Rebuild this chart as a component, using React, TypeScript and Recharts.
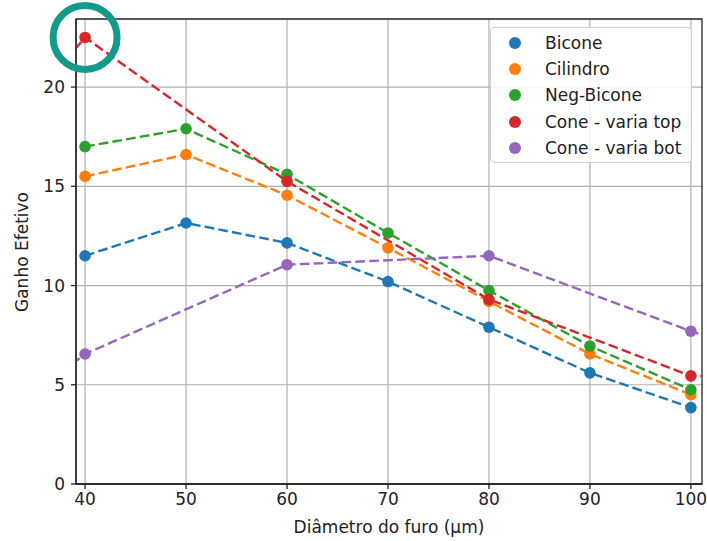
import React from 'react';
import { LineChart, Line, XAxis, YAxis, CartesianGrid, ReferenceArea, ReferenceDot, Label } from 'recharts';

// 30 and 110 lie outside the visible x-range; only the clipped line stubs show.
const diameters = [30, 40, 50, 60, 70, 80, 90, 100, 110];
const bicone = [null, 11.5, 13.15, 12.15, 10.2, 7.9, 5.6, 3.85, null];
const cilindro = [null, 15.5, 16.6, 14.55, 11.9, 9.2, 6.55, 4.5, null];
const negBicone = [null, 17.0, 17.9, 15.6, 12.65, 9.75, 6.95, 4.75, null];
const coneTop = [16.6, 22.5, null, 15.25, null, 9.3, null, 5.45, 5.3];
const coneBot = [2.6, 6.55, null, 11.05, null, 11.5, null, 7.7, 6.0];

const seriesNames = ['Bicone', 'Cilindro', 'Neg-Bicone', 'Cone - varia top', 'Cone - varia bot'];
const seriesColors = ['#1f77b4', '#ff7f0e', '#2ca02c', '#d62728', '#9467bd'];
const seriesValues = [bicone, cilindro, negBicone, coneTop, coneBot];

const xTicks = [40, 50, 60, 70, 80, 90, 100];
const yTicks = [0, 5, 10, 15, 20];
const xDomain = [39.1, 101.1];
const yDomain = [0, 23.43];
const highlight = { x: 40, y: 22.5 };

const data = diameters.map((d, i) => {
  const row: Record<string, number | null> = { x: d };
  seriesValues.forEach((vals, k) => {
    row['s' + k] = vals[i];
  });
  return row;
});

const FONT = 'DejaVu Sans, sans-serif';
const FS = 17;

export default function App() {
  return (
    <div style={{ position: 'absolute', left: 0, top: 0, width: 707, height: 541, background: '#fff', fontFamily: FONT }}>
      <LineChart width={707} height={541} data={data} margin={{ top: 19, right: 5, bottom: 0, left: 0 }}>
        <CartesianGrid stroke="#b0b0b0" strokeWidth={1.2} verticalValues={xTicks} horizontalValues={yTicks} />
        <XAxis
          type="number"
          dataKey="x"
          domain={xDomain}
          ticks={xTicks}
          allowDataOverflow
          height={57}
          tickSize={5}
          tickMargin={4}
          stroke="#222"
          tick={{ fill: '#222', fontSize: FS, fontFamily: FONT }}
          axisLine={{ stroke: '#222', strokeWidth: 1.3 }}
          tickLine={{ stroke: '#222', strokeWidth: 1.3 }}
        >
          <Label value="Diâmetro do furo (µm)" position="insideBottom" offset={8} style={{ fill: '#222', fontSize: FS, fontFamily: FONT }} />
        </XAxis>
        <YAxis
          type="number"
          domain={yDomain}
          ticks={yTicks}
          allowDataOverflow
          width={76}
          tickSize={5}
          tickMargin={6}
          stroke="#222"
          tick={{ fill: '#222', fontSize: FS, fontFamily: FONT }}
          axisLine={{ stroke: '#222', strokeWidth: 1.3 }}
          tickLine={{ stroke: '#222', strokeWidth: 1.3 }}
        >
          <Label
            content={() => (
              <text x={22} y={252} transform="rotate(-90 22 252)" textAnchor="middle" dominantBaseline="central" fill="#222" fontSize={FS} fontFamily={FONT}>
                Ganho Efetivo
              </text>
            )}
          />
        </YAxis>
        <ReferenceArea x1={xDomain[0]} x2={xDomain[1]} y1={yDomain[0]} y2={yDomain[1]} fill="none" stroke="#222" strokeWidth={1.3} fillOpacity={0} />
        {seriesNames.map((name, k) => (
          <Line
            key={name}
            name={name}
            type="linear"
            dataKey={'s' + k}
            stroke={seriesColors[k]}
            strokeWidth={2.4}
            strokeDasharray="9.7 4.2"
            connectNulls
            dot={{ r: 5.8, fill: seriesColors[k], stroke: seriesColors[k], strokeWidth: 0 }}
            activeDot={false}
            isAnimationActive={false}
          />
        ))}
        <ReferenceDot x={highlight.x} y={highlight.y} r={32} fill="none" stroke="#139a8b" strokeWidth={7} ifOverflow="visible" />
      </LineChart>
      <div
        style={{
          position: 'absolute',
          left: 490,
          top: 27,
          width: 202,
          height: 136,
          boxSizing: 'border-box',
          border: '1px solid #d0d0d0',
          borderRadius: 4,
          background: 'rgba(255,255,255,0.85)',
        }}
      >
        {seriesNames.map((name, k) => (
          <div key={name} style={{ position: 'absolute', left: 0, top: 2 + k * 26.2, height: 26, display: 'flex', alignItems: 'center' }}>
            <span
              style={{
                position: 'absolute',
                left: 18,
                top: 7,
                width: 12,
                height: 12,
                borderRadius: 6,
                background: seriesColors[k],
              }}
            />
            <span style={{ position: 'absolute', left: 54, top: 1, whiteSpace: 'nowrap', fontSize: FS, color: '#222', fontFamily: FONT, lineHeight: '24px' }}>
              {name}
            </span>
          </div>
        ))}
      </div>
    </div>
  );
}
